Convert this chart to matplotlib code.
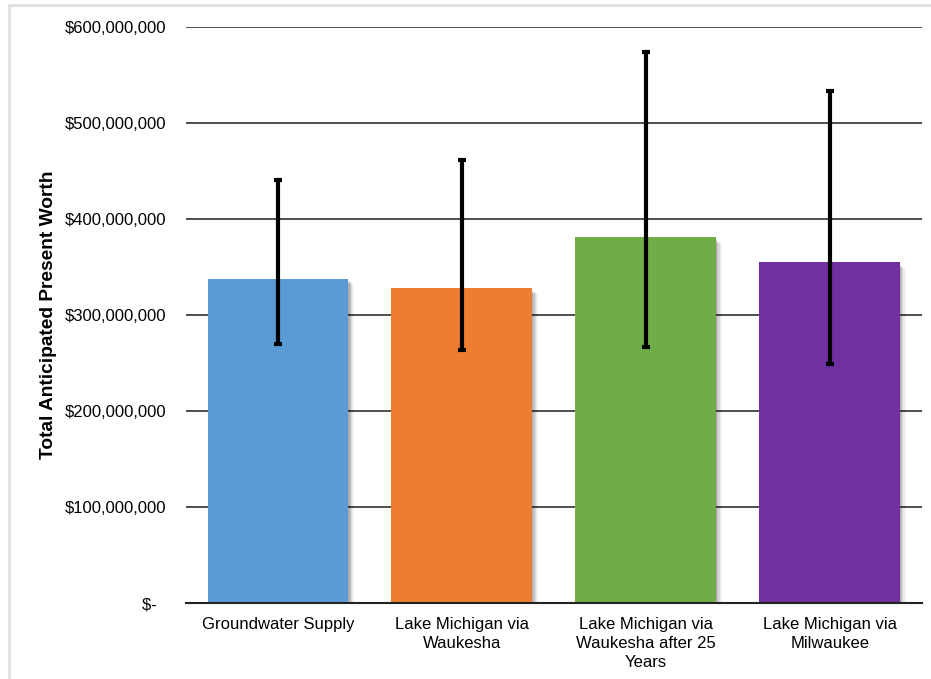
import matplotlib.pyplot as plt
from matplotlib.patches import Rectangle
from matplotlib.ticker import FuncFormatter
import numpy as np

plt.rcParams['font.family'] = ['Liberation Sans', 'DejaVu Sans']

# data
categories = ["Groundwater Supply", "Lake Michigan via\nWaukesha",
              "Lake Michigan via\nWaukesha after 25\nYears", "Lake Michigan via\nMilwaukee"]
values = [337.5e6, 328e6, 381e6, 355e6]
err_low = [269.8e6, 263.5e6, 266.7e6, 249e6]
err_high = [440.6e6, 461.5e6, 574e6, 533e6]
colors = ["#5b9bd5", "#ed7d31", "#70ad47", "#7030a0"]

fig = plt.figure(figsize=(9.31, 6.79), dpi=100)
ax = fig.add_axes([0.1998, 0.1119, 0.7902, 0.8483])

x = np.arange(len(categories))
width = 0.766

# soft drop shadow behind each bar
for i, v in enumerate(values):
    for k, a in enumerate([0.12, 0.09, 0.07, 0.05, 0.03]):
        off = 0.006 + k * 0.006
        ax.add_patch(Rectangle((x[i] - width / 2 + off, 0), width, v - 2.5e6 - k * 1e6,
                               facecolor="black", alpha=a, lw=0, zorder=2))

ax.bar(x, values, width=width, color=colors, zorder=3)

yerr = np.array([np.array(values) - np.array(err_low), np.array(err_high) - np.array(values)])
ax.errorbar(x, values, yerr=yerr, fmt="none", ecolor="black", elinewidth=3,
            capsize=3, capthick=3, zorder=4)

ax.set_xlim(-0.5, 3.5)
ax.set_ylim(0, 600e6)
ax.set_yticks(np.arange(0, 600e6 + 1, 100e6))


def money(v, pos):
    # accounting style: zero shows as "$-" with some trailing space
    if v == 0:
        return "$-  "
    return "${:,.0f}".format(v)


ax.yaxis.set_major_formatter(FuncFormatter(money))
ax.set_xticks(x)
ax.set_xticklabels(categories, fontsize=12, linespacing=1.35)
ax.tick_params(axis="y", length=0, pad=14.4, labelsize=12)
ax.tick_params(axis="x", length=0, pad=10)

ax.grid(axis="y", color="#404040", lw=1.3, zorder=1)
ax.set_axisbelow(True)
for s in ["top", "right", "left"]:
    ax.spines[s].set_visible(False)
ax.spines["bottom"].set_color("#222222")
ax.spines["bottom"].set_linewidth(1.5)
ax.spines["bottom"].set_zorder(5)

ax.set_ylabel("Total Anticipated Present Worth", fontsize=13.8, fontweight="bold")
ax.yaxis.set_label_coords(-0.176, 0.5)

# light frame around the figure
fig.patches.append(Rectangle((9 / 931, -0.1), 1.2, 1 - 5 / 679 + 0.1, transform=fig.transFigure,
                             fill=False, edgecolor="#e0e0e0", lw=2))

fig.savefig("out.png", dpi=100)
